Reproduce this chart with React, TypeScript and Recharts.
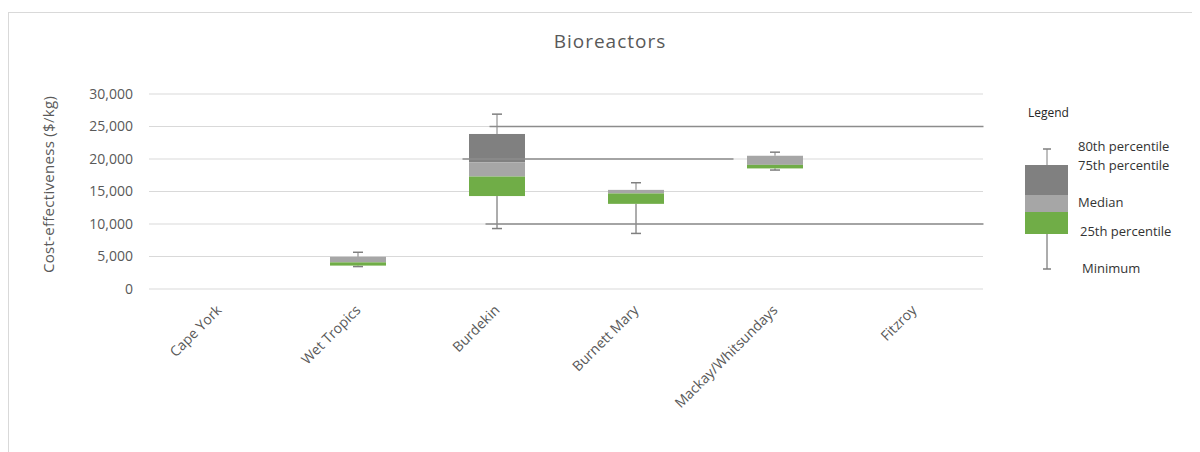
import React from 'react';
import {
  ComposedChart, Bar, XAxis, YAxis, CartesianGrid, ReferenceLine,
} from 'recharts';

// --- data ---
const regions = ['Cape York', 'Wet Tropics', 'Burdekin', 'Burnett Mary', 'Mackay/Whitsundays', 'Fitzroy'];
const minimum = [null, 3450, 9300, 8550, 18300, null];
const p25 = [null, 3600, 14300, 13100, 18550, null];
const greenTop = [null, 4100, 17300, 14700, 19100, null];
const lightTop = [null, 4950, 19500, 15250, 20500, null];
const p75 = [null, 4950, 23850, 15250, 20500, null];
const p80 = [null, 5650, 26900, 16350, 21050, null];
const yTicks = [0, 5000, 10000, 15000, 20000, 25000, 30000];

// darker horizontal rules seen in the source image
const darkRules = [
  { y: 25000, from: 'Burdekin', to: 'Fitzroy' },
  { y: 20000, from: 'Burdekin', to: 'Mackay/Whitsundays' },
  { y: 10000, from: 'Burdekin', to: 'Fitzroy' },
];
const darkRuleOffsets = [[-7, 70], [-34, -41], [-11, 70]];

const GREEN = '#70ad47';
const LIGHT = '#a6a6a6';
const DARK = '#808080';
const TEXT = '#595959';
const FONT = '"Open Sans", sans-serif';

const data = regions.map((name, i) => ({
  name,
  minimum: minimum[i],
  p25: p25[i],
  greenTop: greenTop[i],
  lightTop: lightTop[i],
  p75: p75[i],
  p80: p80[i],
}));

function BoxShape(props: any) {
  const { x, y, width, height, payload } = props;
  if (payload.minimum == null || payload.p80 == null) return null;
  const top = Math.min(y, y + height);
  const bottom = Math.max(y, y + height);
  const lo = payload.minimum;
  const hi = payload.p80;
  const vy = (v: number) => bottom - ((v - lo) / (hi - lo)) * (bottom - top);
  const cx = x + width / 2;
  const cap = 5;
  return (
    <g>
      <line x1={cx} x2={cx} y1={vy(payload.p80)} y2={vy(payload.p75)} stroke="#7f7f7f" />
      <line x1={cx - cap} x2={cx + cap} y1={vy(payload.p80)} y2={vy(payload.p80)} stroke="#7f7f7f" strokeWidth={1.5} />
      <line x1={cx} x2={cx} y1={vy(payload.p25)} y2={vy(payload.minimum)} stroke="#5a5a5a" />
      <line x1={cx - cap} x2={cx + cap} y1={vy(payload.minimum)} y2={vy(payload.minimum)} stroke="#7f7f7f" strokeWidth={1.5} />
      <rect x={x} width={width} y={vy(payload.p75)} height={vy(payload.lightTop) - vy(payload.p75)} fill={DARK} />
      <rect x={x} width={width} y={vy(payload.lightTop)} height={vy(payload.greenTop) - vy(payload.lightTop)} fill={LIGHT} />
      <rect x={x} width={width} y={vy(payload.greenTop)} height={vy(payload.p25) - vy(payload.greenTop)} fill={GREEN} />
    </g>
  );
}

function RegionTick(props: any) {
  const { x, y, payload } = props;
  return (
    <g transform={`translate(${x + 4},${y + 22})`}>
      <text transform="rotate(-45)" textAnchor="end" fill={TEXT} fontSize={14} fontFamily={FONT}>
        {payload.value}
      </text>
    </g>
  );
}

function YLabel(props: any) {
  const { viewBox } = props;
  const cx = 39;
  const cy = viewBox.y + viewBox.height / 2 - 7;
  return (
    <text
      x={cx}
      y={cy}
      transform={`rotate(-90, ${cx}, ${cy})`}
      textAnchor="middle"
      dominantBaseline="central"
      fill={TEXT}
      fontSize={15}
      letterSpacing={0.3}
      fontFamily={FONT}
    >
      Cost-effectiveness ($/kg)
    </text>
  );
}

function Legend() {
  const t = { fill: '#333333', fontSize: 13, fontFamily: FONT };
  return (
    <svg width={180} height={190} style={{ position: 'absolute', left: 1010, top: 90 }}>
      <text x={9} y={14} {...t} fontSize={12} fill="#262626">Legend</text>
      <line x1={28} x2={28} y1={46} y2={62} stroke="#7f7f7f" />
      <line x1={24} x2={32} y1={46} y2={46} stroke="#7f7f7f" strokeWidth={1.5} />
      <line x1={28} x2={28} y1={131} y2={166} stroke="#5a5a5a" />
      <line x1={24} x2={32} y1={166} y2={166} stroke="#7f7f7f" strokeWidth={1.5} />
      <rect x={6} y={62} width={43} height={30} fill={DARK} />
      <rect x={6} y={92} width={43} height={17} fill={LIGHT} />
      <rect x={6} y={109} width={43} height={22} fill={GREEN} />
      <text x={59} y={48} {...t}>80th percentile</text>
      <text x={59} y={67} {...t}>75th percentile</text>
      <text x={59} y={104} {...t}>Median</text>
      <text x={61} y={133} {...t}>25th percentile</text>
      <text x={63} y={170} {...t}>Minimum</text>
    </svg>
  );
}

function darkRuleShape(i: number) {
  return (props: any) => {
    const [d1, d2] = darkRuleOffsets[i];
    return <line x1={props.x1 + d1} x2={props.x2 + d2} y1={props.y1} y2={props.y2} stroke="#8c8c8c" strokeWidth={1.5} />;
  };
}

export default function App() {
  return (
    <div
      style={{
        position: 'relative',
        marginTop: 4,
        width: 1200,
        height: 440,
        borderLeft: '1px solid #d9d9d9',
        borderTop: '1px solid #d9d9d9',
        fontFamily: FONT,
      }}
    >
      <div
        style={{
          position: 'absolute',
          left: 401,
          top: 15,
          width: 400,
          textAlign: 'center',
          fontSize: 19,
          letterSpacing: 1,
          color: TEXT,
        }}
      >
        Bioreactors
      </div>
      <ComposedChart
        width={1191}
        height={439}
        data={data}
        margin={{ top: 81, right: 217, bottom: 0, left: 0 }}
      >
        <CartesianGrid vertical={false} stroke="#d9d9d9" />
        <XAxis
          dataKey="name"
          axisLine={false}
          tickLine={false}
          tickSize={0}
          tickMargin={0}
          height={163}
          interval={0}
          tick={<RegionTick />}
        />
        <YAxis
          domain={[0, 30000]}
          ticks={yTicks}
          width={140}
          axisLine={false}
          tickLine={false}
          tickSize={0}
          tickMargin={16}
          tick={{ fill: TEXT, fontSize: 14, fontFamily: FONT }}
          tickFormatter={(v: number) => v.toLocaleString('en-US')}
          label={<YLabel />}
        />
        {darkRules.map((r, i) => (
          <ReferenceLine
            key={i}
            segment={[{ x: r.from, y: r.y }, { x: r.to, y: r.y }]}
            shape={darkRuleShape(i)}
          />
        ))}
        <Bar
          dataKey={(d: any) => (d.minimum == null ? null : [d.minimum, d.p80])}
          barSize={56}
          shape={<BoxShape />}
          isAnimationActive={false}
        />
      </ComposedChart>
      <Legend />
    </div>
  );
}
